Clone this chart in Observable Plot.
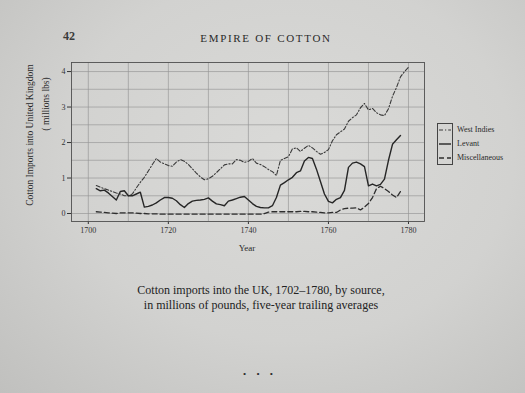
<!DOCTYPE html>
<html>
<head>
<meta charset="utf-8">
<script src="https://cdn.jsdelivr.net/npm/d3@7"></script>
<script src="https://cdn.jsdelivr.net/npm/@observablehq/plot@0.6"></script>
<style>
  html, body { margin: 0; padding: 0; }
  body { width: 525px; height: 393px; overflow: hidden;
    background: radial-gradient(ellipse at 55% 40%, #dadad8 0%, #d2d2d0 55%, #c0c0be 100%);
    font-family: "Liberation Serif", serif; color: #2a2a2a; }
  #page { position: relative; width: 525px; height: 393px; }
  .abs { position: absolute; white-space: nowrap; }
  #chart { position: absolute; left: 0; top: 0; }
</style>
</head>
<body>
<div id="page">
  <div class="abs" style="left:63px; top:29px; font-size:12px; font-weight:bold; color:#3a3a3a;">42</div>
  <div class="abs" style="left:0; width:532px; text-align:center; top:32px; font-size:11px; letter-spacing:1.7px;">EMPIRE OF COTTON</div>
  <div id="chart"></div>
  <div class="abs" style="left:30px; top:135px; font-size:9.5px; transform: translate(-50%,-50%) rotate(-90deg); transform-origin:center;">Cotton Imports into United Kingdom</div>
  <div class="abs" style="left:46px; top:104px; font-size:9.5px; transform: translate(-50%,-50%) rotate(-90deg); transform-origin:center;">( millions lbs)</div>
  <div class="abs" style="left:247px; top:243px; font-size:9px; transform: translateX(-50%);">Year</div>
  <div id="legend"></div>
  <div class="abs" style="left:0; width:522px; text-align:center; top:283px; font-size:12px; line-height:15px; color:#222;">Cotton imports into the UK, 1702–1780, by source,<br>in millions of pounds, five-year trailing averages</div>
  <div class="abs" style="left:0; width:520px; text-align:center; top:369px; font-size:9px; letter-spacing:4px;">• • •</div>
</div>
<script>
// ---- data ----
const seriesNames = ["West Indies", "Levant", "Miscellaneous"];
const westStart = 1702;
const westIndies = [0.79,0.74,0.70,0.66,0.62,0.58,0.55,0.50,0.50,0.55,
  0.72,0.88,1.02,1.20,1.38,1.55,1.45,1.40,1.35,1.33,
  1.45,1.52,1.47,1.38,1.26,1.14,1.03,0.95,0.98,1.05,
  1.15,1.26,1.37,1.40,1.40,1.52,1.50,1.44,1.47,1.55,
  1.42,1.38,1.32,1.24,1.18,1.07,1.50,1.55,1.60,1.82,
  1.85,1.75,1.84,1.92,1.85,1.75,1.67,1.72,1.80,2.05,
  2.22,2.30,2.38,2.60,2.70,2.78,2.98,3.10,2.92,2.96,
  2.84,2.78,2.76,2.95,3.30,3.55,3.85,4.00,4.12];
const levantStart = 1702;
const levant = [0.70,0.64,0.66,0.58,0.48,0.38,0.62,0.64,0.50,0.50,
  0.55,0.60,0.18,0.20,0.24,0.30,0.38,0.45,0.45,0.43,
  0.36,0.25,0.17,0.28,0.35,0.37,0.38,0.40,0.44,0.35,
  0.27,0.25,0.22,0.35,0.38,0.42,0.46,0.48,0.38,0.28,
  0.20,0.17,0.16,0.16,0.22,0.45,0.80,0.87,0.95,1.02,
  1.15,1.20,1.48,1.58,1.55,1.25,0.90,0.55,0.34,0.30,
  0.40,0.45,0.65,1.30,1.42,1.45,1.40,1.32,0.78,0.83,
  0.78,0.82,0.97,1.50,1.95,2.08,2.20];
const miscStart = 1702;
const miscellaneous = [0.05,0.04,0.03,0.02,0.01,0.00,0.02,0.02,0.02,0.02,
  0.01,0.00,0.00,-0.01,-0.01,-0.01,-0.02,-0.02,-0.02,-0.02,
  -0.02,-0.02,-0.02,-0.02,-0.02,-0.02,-0.02,-0.02,-0.02,-0.02,
  -0.02,-0.02,-0.02,-0.02,-0.02,-0.02,-0.02,-0.02,-0.02,-0.02,
  -0.02,-0.02,0.00,0.04,0.05,0.05,0.05,0.05,0.05,0.05,
  0.05,0.06,0.06,0.05,0.05,0.04,0.03,0.02,0.02,0.03,
  0.03,0.10,0.14,0.15,0.15,0.16,0.10,0.18,0.28,0.45,
  0.70,0.77,0.70,0.62,0.52,0.45,0.62];
const xTicks = [1700, 1720, 1740, 1760, 1780];
const yTicks = [0, 1, 2, 3, 4];
const xGrid = [1700, 1710, 1720, 1730, 1740, 1750, 1760, 1770, 1780];
const yGrid = [0, 0.5, 1, 1.5, 2, 2.5, 3, 3.5, 4];

// ---- build rows ----
function rows(start, vals, name) { return vals.map((v, i) => ({year: start + i, value: v, series: name})); }
const westRows = rows(westStart, westIndies, seriesNames[0]);
const levantRows = rows(levantStart, levant, seriesNames[1]);
const miscRows = rows(miscStart, miscellaneous, seriesNames[2]);

const styles = {
  "West Indies": {stroke: "#3a3a3a", strokeWidth: 1.1, strokeDasharray: "4,2,1.2,2"},
  "Levant": {stroke: "#262626", strokeWidth: 1.4, strokeDasharray: null},
  "Miscellaneous": {stroke: "#2e2e2e", strokeWidth: 1.3, strokeDasharray: "5,3"}
};

const chart = Plot.plot({
  width: 525, height: 262,
  marginLeft: 71, marginRight: 101, marginTop: 62, marginBottom: 41,
  style: {background: "transparent", fontFamily: "Liberation Serif", fontSize: "8px", color: "#333", overflow: "visible"},
  x: {domain: [1695.8, 1784], ticks: xTicks, tickFormat: d => String(d), tickSize: 3, tickPadding: 3, label: null},
  y: {domain: [-0.225, 4.255], ticks: yTicks, tickFormat: d => String(d), tickSize: 4, tickPadding: 2, label: null},
  marks: [
    Plot.ruleX(xGrid, {stroke: "#959595", strokeWidth: 0.65, strokeOpacity: 1}),
    Plot.ruleY(yGrid, {stroke: "#959595", strokeWidth: 0.65, strokeOpacity: 1}),
    Plot.frame({stroke: "#505050", strokeWidth: 0.9}),
    Plot.line(westRows, {x: "year", y: "value", ...styles["West Indies"]}),
    Plot.line(levantRows, {x: "year", y: "value", ...styles["Levant"]}),
    Plot.line(miscRows, {x: "year", y: "value", ...styles["Miscellaneous"]})
  ]
});
document.getElementById("chart").appendChild(chart);

// ---- legend ----
const legend = document.getElementById("legend");
legend.style.cssText = "position:absolute; left:437px; top:123px;";
let html = '<div style="position:absolute; left:0; top:0; width:14px; height:40px; border:1px solid #444;"></div>';
seriesNames.forEach((name, i) => {
  const s = styles[name];
  const y = 7 + i * 14;
  html += `<svg style="position:absolute; left:2px; top:${y - 2}px;" width="12" height="4"><line x1="0" x2="12" y1="2" y2="2" stroke="${s.stroke}" stroke-width="${s.strokeWidth}" ${s.strokeDasharray ? `stroke-dasharray="${s.strokeDasharray}"` : ""}/></svg>`;
  html += `<div style="position:absolute; left:20px; top:${y - 6}px; font-size:8px; line-height:11px; white-space:nowrap;">${name}</div>`;
});
legend.innerHTML = html;
</script>
</body>
</html>
